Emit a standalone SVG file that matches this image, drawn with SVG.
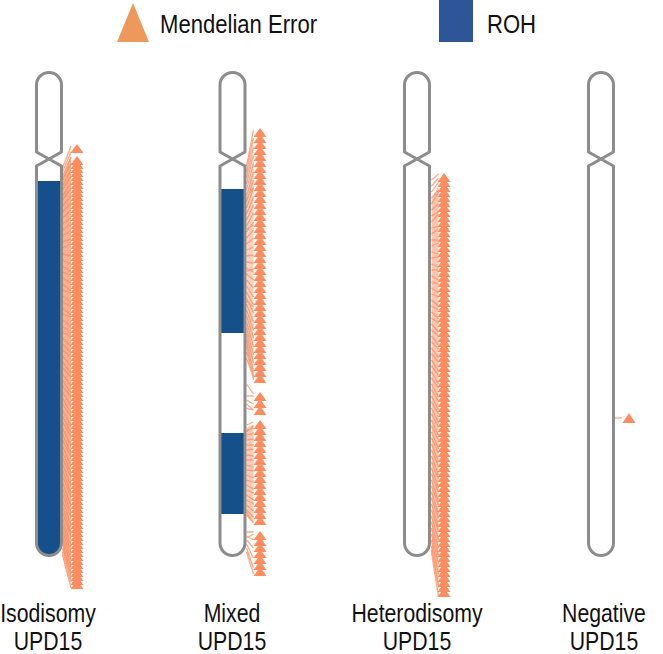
<svg xmlns="http://www.w3.org/2000/svg" xmlns:xlink="http://www.w3.org/1999/xlink" width="663" height="654" viewBox="0 0 663 654">
<style>
.chr{fill:none;stroke:#8c8c8c;stroke-width:3;stroke-linejoin:round}
.roh{fill:#15508a}
.me{fill:#ff8c5e}
.fan{stroke:#ff8c5e;stroke-width:1.3;stroke-opacity:.75;fill:none}
.fanfill{fill:#ff8c5e;fill-opacity:.7}
.lbl{font-family:"Liberation Sans",Arial,sans-serif;font-size:25px;fill:#111}
.mid{text-anchor:middle}
</style>
<defs>
<path id="chrom" d="M-12.5,152 L12.5,166 V543 A12.5,12.5 0 0 1 -12.5,543 V166 L12.5,152 V85 A12.5,12.5 0 0 0 -12.5,85 Z"/>
</defs>
<rect width="663" height="654" fill="#fff"/>
<g id="legend">
<polygon points="117,42 149,42 133,3" fill="#ee995b"/>
<text class="lbl" transform="translate(160,33) scale(.85,1)" style="font-size:26px">Mendelian Error</text>
<rect x="439" y="0" width="34" height="42" fill="#2e5597"/>
<text class="lbl" transform="translate(487,33) scale(.85,1)" style="font-size:26px">ROH</text>
</g>
<g id="connectors">
<polygon class="fanfill" points="63,176 71,156 71,580 63,552"/>
<polygon class="fanfill" points="246.5,200 253.5,160 253.5,380 246.5,346" style="fill-opacity:.4"/>
<polygon class="fanfill" points="246.5,428 253.5,424 253.5,522 246.5,516" style="fill-opacity:.45"/>
<polygon class="fanfill" points="431.5,200 438.5,185 438.5,590 431.5,550" style="fill-opacity:.5"/>
<path class="fan" d="M62.5,168l8.5,-22M62.5,172l8.5,-20M62.5,176l8.5,-19M62.5,180l8.5,-17M62.5,186l8.5,-16M62.5,190l8.5,-14M62.5,196l8.5,-13M62.5,200l8.5,-12M62.5,206l8.5,-10M62.5,212l8.5,-9M62.5,218l8.5,-8M62.5,224l8.5,-6M62.5,230l8.5,-6M62.5,236l8.5,-5M62.5,242l8.5,-3M62.5,248l8.5,-4M62.5,254l8.5,2M62.5,260l8.5,4M62.5,266l8.5,6M62.5,272l8.5,3M62.5,278l8.5,5M62.5,284l8.5,7M62.5,290l8.5,3M62.5,296l8.5,6M62.5,302l8.5,4M62.5,308l8.5,7M62.5,314l8.5,3M62.5,320l8.5,6M62.5,326l8.5,7M62.5,332l8.5,5M62.5,338l8.5,8M62.5,344l8.5,9M62.5,350l8.5,7M62.5,356l8.5,10M62.5,362l8.5,11M62.5,368l8.5,9M62.5,374l8.5,12M62.5,380l8.5,13M62.5,386l8.5,11M62.5,392l8.5,14M62.5,398l8.5,15M62.5,404l8.5,13M62.5,410l8.5,16M62.5,416l8.5,17M62.5,422l8.5,15M62.5,428l8.5,18M62.5,434l8.5,19M62.5,440l8.5,17M62.5,446l8.5,20M62.5,452l8.5,21M62.5,458l8.5,19M62.5,464l8.5,22M62.5,470l8.5,23M62.5,476l8.5,21M62.5,482l8.5,24M62.5,488l8.5,25M62.5,494l8.5,23M62.5,500l8.5,26M62.5,506l8.5,27M62.5,512l8.5,25M62.5,518l8.5,28M62.5,524l8.5,29M62.5,530l8.5,30M62.5,536l8.5,31M62.5,542l8.5,32M62.5,548l8.5,34M62.5,552l8.5,36M62.5,555l8.5,33"/>
<path class="fan" d="M246.5,166l7,-36M246.5,172l7,-34M246.5,178l7,-31M246.5,184l7,-29M246.5,190l7,-27M246.5,196l7,-24M246.5,202l7,-22M246.5,208l7,-20M246.5,214l7,-17M246.5,220l7,-15M246.5,226l7,-13M246.5,232l7,-10M246.5,238l7,-8M246.5,244l7,-6M246.5,250l7,-3M246.5,256l7,-1M246.5,262l7,1M246.5,268l7,4M246.5,274l7,6M246.5,280l7,8M246.5,286l7,11M246.5,292l7,13M246.5,298l7,15M246.5,304l7,18M246.5,310l7,20M246.5,316l7,22M246.5,322l7,25M246.5,328l7,27M246.5,334l7,29M246.5,340l7,32M246.5,346l7,34M246.5,352l7,24M246.5,358l7,20M246.5,199l7,-12M246.5,229l7,-4M246.5,271l7,-2M246.5,301l7,6M246.5,384l7,10M246.5,396l7,0M246.5,400l7,4M246.5,404l7,6M246.5,408l7,2M246.5,425l7,-3M246.5,430l7,-2M246.5,435l7,-2M246.5,440l7,-1M246.5,445l7,0M246.5,450l7,-1M246.5,455l7,1M246.5,460l7,0M246.5,465l7,2M246.5,470l7,1M246.5,475l7,3M246.5,480l7,2M246.5,485l7,4M246.5,490l7,3M246.5,495l7,5M246.5,500l7,4M246.5,505l7,6M246.5,510l7,7M246.5,515l7,8M246.5,432l7,-6M246.5,512l7,11M246.5,532l7,0M246.5,536l7,4M246.5,540l7,8M246.5,544l7,14M246.5,548l7,20M246.5,552l7,22M246.5,538l7,-4"/>
<path class="fan" d="M431.5,180l7,-6M431.5,186l7,-8M431.5,192l7,-10M431.5,198l7,-8M431.5,204l7,-12M431.5,210l7,-6M431.5,216l7,-4M431.5,222l7,-8M431.5,228l7,-2M431.5,234l7,-5M431.5,240l7,0M431.5,246l7,-3M431.5,252l7,2M431.5,258l7,-1M431.5,264l7,3M431.5,270l7,0M431.5,276l7,4M431.5,282l7,2M431.5,288l7,5M431.5,294l7,3M431.5,300l7,6M431.5,306l7,4M431.5,312l7,7M431.5,318l7,5M431.5,324l7,8M431.5,330l7,6M431.5,336l7,9M431.5,342l7,7M431.5,348l7,10M431.5,354l7,8M431.5,360l7,11M431.5,366l7,9M431.5,372l7,12M431.5,378l7,10M431.5,384l7,13M431.5,390l7,11M431.5,396l7,14M431.5,402l7,12M431.5,408l7,15M431.5,414l7,13M431.5,420l7,16M431.5,426l7,14M431.5,432l7,17M431.5,438l7,15M431.5,444l7,18M431.5,450l7,16M431.5,456l7,19M431.5,462l7,17M431.5,468l7,20M431.5,474l7,18M431.5,480l7,21M431.5,486l7,19M431.5,492l7,22M431.5,498l7,20M431.5,504l7,23M431.5,510l7,21M431.5,516l7,24M431.5,522l7,26M431.5,528l7,28M431.5,534l7,30M431.5,540l7,34M431.5,546l7,40M431.5,550l7,46M431.5,553l7,44"/>
<path class="fan" d="M615,418h7"/>
</g>
<g id="chr-isodisomy">
<path class="roh" d="M36.5,181 H61.5 V543 A12.5,12.5 0 0 1 36.5,543 Z"/>
<use href="#chrom" class="chr" x="49"/>
<path class="me" d="M77,144l6.5,9h-13zM77,156l6.5,9h-13z
m0,4l6.5,9h-13zm0,4l6.5,9h-13zm0,4l6.5,9h-13zm0,4l6.5,9h-13zm0,4l6.5,9h-13zm0,4l6.5,9h-13zm0,4l6.5,9h-13zm0,4l6.5,9h-13zm0,4l6.5,9h-13zm0,4l6.5,9h-13z
m0,4l6.5,9h-13zm0,4l6.5,9h-13zm0,4l6.5,9h-13zm0,4l6.5,9h-13zm0,4l6.5,9h-13zm0,4l6.5,9h-13zm0,4l6.5,9h-13zm0,4l6.5,9h-13zm0,4l6.5,9h-13zm0,4l6.5,9h-13z
m0,4l6.5,9h-13zm0,4l6.5,9h-13zm0,4l6.5,9h-13zm0,4l6.5,9h-13zm0,4l6.5,9h-13zm0,4l6.5,9h-13zm0,4l6.5,9h-13zm0,4l6.5,9h-13zm0,4l6.5,9h-13zm0,4l6.5,9h-13z
m0,4l6.5,9h-13zm0,4l6.5,9h-13zm0,4l6.5,9h-13zm0,4l6.5,9h-13zm0,4l6.5,9h-13zm0,4l6.5,9h-13zm0,4l6.5,9h-13zm0,4l6.5,9h-13zm0,4l6.5,9h-13zm0,4l6.5,9h-13z
m0,4l6.5,9h-13zm0,4l6.5,9h-13zm0,4l6.5,9h-13zm0,4l6.5,9h-13zm0,4l6.5,9h-13zm0,4l6.5,9h-13zm0,4l6.5,9h-13zm0,4l6.5,9h-13zm0,4l6.5,9h-13zm0,4l6.5,9h-13z
m0,4l6.5,9h-13zm0,4l6.5,9h-13zm0,4l6.5,9h-13zm0,4l6.5,9h-13zm0,4l6.5,9h-13zm0,4l6.5,9h-13zm0,4l6.5,9h-13zm0,4l6.5,9h-13zm0,4l6.5,9h-13zm0,4l6.5,9h-13z
m0,4l6.5,9h-13zm0,4l6.5,9h-13zm0,4l6.5,9h-13zm0,4l6.5,9h-13zm0,4l6.5,9h-13zm0,4l6.5,9h-13zm0,4l6.5,9h-13zm0,4l6.5,9h-13zm0,4l6.5,9h-13zm0,4l6.5,9h-13z
m0,4l6.5,9h-13zm0,4l6.5,9h-13zm0,4l6.5,9h-13zm0,4l6.5,9h-13zm0,4l6.5,9h-13zm0,4l6.5,9h-13zm0,4l6.5,9h-13zm0,4l6.5,9h-13zm0,4l6.5,9h-13zm0,4l6.5,9h-13z
m0,4l6.5,9h-13zm0,4l6.5,9h-13zm0,4l6.5,9h-13zm0,4l6.5,9h-13zm0,4l6.5,9h-13zm0,4l6.5,9h-13zm0,4l6.5,9h-13zm0,4l6.5,9h-13zm0,4l6.5,9h-13zm0,4l6.5,9h-13z
m0,4l6.5,9h-13zm0,4l6.5,9h-13zm0,4l6.5,9h-13zm0,4l6.5,9h-13zm0,4l6.5,9h-13zm0,4l6.5,9h-13zm0,4l6.5,9h-13zm0,4l6.5,9h-13zm0,4l6.5,9h-13zm0,4l6.5,9h-13z
m0,4l6.5,9h-13zm0,4l6.5,9h-13zm0,4l6.5,9h-13zm0,4l6.5,9h-13zm0,4l6.5,9h-13zm0,4l6.5,9h-13z"/>
<text class="lbl mid" transform="translate(48,622) scale(.85,1)">Isodisomy</text>
<text class="lbl mid" transform="translate(48,650) scale(.85,1)">UPD15</text>
</g>
<g id="chr-mixed">
<path class="roh" d="M220,189 H245 V333 H220 Z M220,433 H245 V514 H220 Z"/>
<use href="#chrom" class="chr" x="232.5"/>
<path class="me" d="M260,128l6.5,9h-13z
m0,6l6.5,9h-13zm0,6l6.5,9h-13zm0,6l6.5,9h-13zm0,6l6.5,9h-13zm0,6l6.5,9h-13zm0,6l6.5,9h-13zm0,6l6.5,9h-13zm0,6l6.5,9h-13zm0,6l6.5,9h-13zm0,6l6.5,9h-13z
m0,6l6.5,9h-13zm0,6l6.5,9h-13zm0,6l6.5,9h-13zm0,6l6.5,9h-13zm0,6l6.5,9h-13zm0,6l6.5,9h-13zm0,6l6.5,9h-13zm0,6l6.5,9h-13zm0,6l6.5,9h-13zm0,6l6.5,9h-13z
m0,6l6.5,9h-13zm0,6l6.5,9h-13zm0,6l6.5,9h-13zm0,6l6.5,9h-13zm0,6l6.5,9h-13zm0,6l6.5,9h-13zm0,6l6.5,9h-13zm0,6l6.5,9h-13zm0,6l6.5,9h-13zm0,6l6.5,9h-13z
m0,6l6.5,9h-13zm0,6l6.5,9h-13zm0,6l6.5,9h-13zm0,6l6.5,9h-13zm0,6l6.5,9h-13zm0,6l6.5,9h-13zm0,6l6.5,9h-13zm0,6l6.5,9h-13zm0,6l6.5,9h-13zm0,6l6.5,9h-13z
m0,6l6.5,9h-13z
M260,392l6.5,9h-13zm0,7l6.5,9h-13zm0,7l6.5,9h-13z
M260,420l6.5,9h-13z
m0,6l6.5,9h-13zm0,6l6.5,9h-13zm0,6l6.5,9h-13zm0,6l6.5,9h-13zm0,6l6.5,9h-13zm0,6l6.5,9h-13zm0,6l6.5,9h-13zm0,6l6.5,9h-13z
m0,6l6.5,9h-13zm0,6l6.5,9h-13zm0,6l6.5,9h-13zm0,6l6.5,9h-13zm0,6l6.5,9h-13zm0,6l6.5,9h-13zm0,6l6.5,9h-13zm0,6l6.5,9h-13z
M260,531l6.5,9h-13zm0,6l6.5,9h-13zm0,6l6.5,9h-13zm0,6l6.5,9h-13zm0,6l6.5,9h-13zm0,6l6.5,9h-13zm0,6l6.5,9h-13z"/>
<text class="lbl mid" transform="translate(232,622) scale(.85,1)">Mixed</text>
<text class="lbl mid" transform="translate(232,650) scale(.85,1)">UPD15</text>
</g>
<g id="chr-heterodisomy">
<use href="#chrom" class="chr" x="417"/>
<path class="me" d="M444,173l6.5,9h-13z
m0,5l6.5,9h-13zm0,5l6.5,9h-13zm0,5l6.5,9h-13zm0,5l6.5,9h-13zm0,5l6.5,9h-13zm0,5l6.5,9h-13zm0,5l6.5,9h-13zm0,5l6.5,9h-13zm0,5l6.5,9h-13zm0,5l6.5,9h-13z
m0,5l6.5,9h-13zm0,5l6.5,9h-13zm0,5l6.5,9h-13zm0,5l6.5,9h-13zm0,5l6.5,9h-13zm0,5l6.5,9h-13zm0,5l6.5,9h-13zm0,5l6.5,9h-13zm0,5l6.5,9h-13zm0,5l6.5,9h-13z
m0,5l6.5,9h-13zm0,5l6.5,9h-13zm0,5l6.5,9h-13zm0,5l6.5,9h-13zm0,5l6.5,9h-13zm0,5l6.5,9h-13zm0,5l6.5,9h-13zm0,5l6.5,9h-13zm0,5l6.5,9h-13zm0,5l6.5,9h-13z
m0,5l6.5,9h-13zm0,5l6.5,9h-13zm0,5l6.5,9h-13zm0,5l6.5,9h-13zm0,5l6.5,9h-13zm0,5l6.5,9h-13zm0,5l6.5,9h-13zm0,5l6.5,9h-13zm0,5l6.5,9h-13zm0,5l6.5,9h-13z
m0,5l6.5,9h-13zm0,5l6.5,9h-13zm0,5l6.5,9h-13zm0,5l6.5,9h-13zm0,5l6.5,9h-13zm0,5l6.5,9h-13zm0,5l6.5,9h-13zm0,5l6.5,9h-13zm0,5l6.5,9h-13zm0,5l6.5,9h-13z
m0,5l6.5,9h-13zm0,5l6.5,9h-13zm0,5l6.5,9h-13zm0,5l6.5,9h-13zm0,5l6.5,9h-13zm0,5l6.5,9h-13zm0,5l6.5,9h-13zm0,5l6.5,9h-13zm0,5l6.5,9h-13zm0,5l6.5,9h-13z
m0,5l6.5,9h-13zm0,5l6.5,9h-13zm0,5l6.5,9h-13zm0,5l6.5,9h-13zm0,5l6.5,9h-13zm0,5l6.5,9h-13zm0,5l6.5,9h-13zm0,5l6.5,9h-13zm0,5l6.5,9h-13zm0,5l6.5,9h-13z
m0,5l6.5,9h-13zm0,5l6.5,9h-13zm0,5l6.5,9h-13zm0,5l6.5,9h-13zm0,5l6.5,9h-13zm0,5l6.5,9h-13zm0,5l6.5,9h-13zm0,5l6.5,9h-13zm0,5l6.5,9h-13zm0,5l6.5,9h-13z
m0,5l6.5,9h-13zm0,5l6.5,9h-13zm0,5l6.5,9h-13z"/>
<text class="lbl mid" transform="translate(417,622) scale(.85,1)">Heterodisomy</text>
<text class="lbl mid" transform="translate(417,650) scale(.85,1)">UPD15</text>
</g>
<g id="chr-negative">
<use href="#chrom" class="chr" x="601"/>
<path class="me" d="M629,413l6.5,10h-13z"/>
<text class="lbl mid" transform="translate(604,622) scale(.85,1)">Negative</text>
<text class="lbl mid" transform="translate(604,650) scale(.85,1)">UPD15</text>
</g>
</svg>
